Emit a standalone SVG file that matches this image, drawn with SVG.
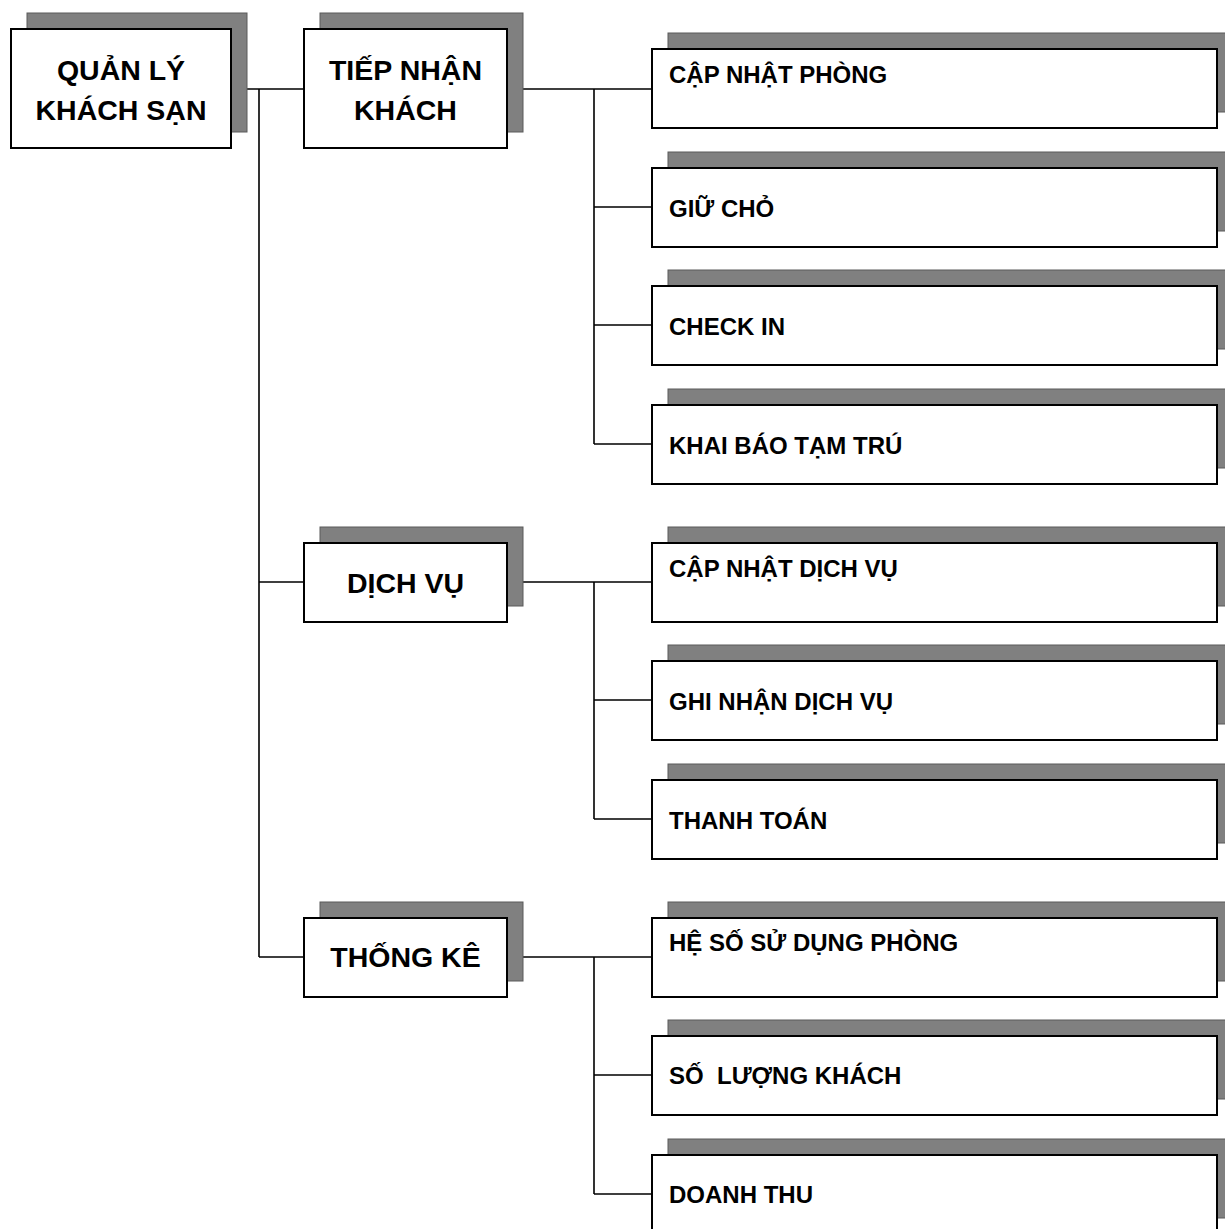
<svg xmlns="http://www.w3.org/2000/svg" width="1225" height="1229" viewBox="0 0 1225 1229">
<style>
.sh{fill:#808080;stroke:#5a5a5a;stroke-width:1}
.bx{fill:#fff;stroke:#000;stroke-width:2}
.t1{font-family:"Liberation Sans",Arial,sans-serif;font-weight:bold;font-size:28.5px;fill:#000;text-anchor:middle}
.t2{font-family:"Liberation Sans",Arial,sans-serif;font-weight:bold;font-size:24px;fill:#000;white-space:pre}
.cn{fill:none;stroke:#000;stroke-width:1.6}
</style>
<rect width="1225" height="1229" fill="#fff"/>
<g id="connectors">
<path class="cn" d="M231 89H304M259 89V957M259 582H304M259 957H304"/>
<path class="cn" d="M507 89H652M594 89V444M594 207H652M594 325H652M594 444H652"/>
<path class="cn" d="M507 582H652M594 582V819M594 700H652M594 819H652"/>
<path class="cn" d="M507 957H652M594 957V1194M594 1075H652M594 1194H652"/>
</g>
<g id="root"><rect class="sh" x="27" y="13" width="220" height="119"/><rect class="bx" x="11" y="29" width="220" height="119"/><text class="t1" x="121" y="80">QUẢN LÝ</text><text class="t1" x="121" y="120">KHÁCH SẠN</text></g>
<g id="tiep-nhan"><rect class="sh" x="320" y="13" width="203" height="119"/><rect class="bx" x="304" y="29" width="203" height="119"/><text class="t1" x="405.5" y="80">TIẾP NHẬN</text><text class="t1" x="405.5" y="120">KHÁCH</text></g>
<g id="dich-vu"><rect class="sh" x="320" y="527" width="203" height="79"/><rect class="bx" x="304" y="543" width="203" height="79"/><text class="t1" x="405.5" y="593">DỊCH VỤ</text></g>
<g id="thong-ke"><rect class="sh" x="320" y="902" width="203" height="79"/><rect class="bx" x="304" y="918" width="203" height="79"/><text class="t1" x="405.5" y="967">THỐNG KÊ</text></g>
<g id="cap-nhat-phong"><rect class="sh" x="668" y="33" width="565" height="79"/><rect class="bx" x="652" y="49" width="565" height="79"/><text class="t2" x="669" y="83">CẬP NHẬT PHÒNG</text></g>
<g id="giu-cho"><rect class="sh" x="668" y="152" width="565" height="79"/><rect class="bx" x="652" y="168" width="565" height="79"/><text class="t2" x="669" y="217">GIỮ CHỎ</text></g>
<g id="check-in"><rect class="sh" x="668" y="270" width="565" height="79"/><rect class="bx" x="652" y="286" width="565" height="79"/><text class="t2" x="669" y="335">CHECK IN</text></g>
<g id="khai-bao"><rect class="sh" x="668" y="389" width="565" height="79"/><rect class="bx" x="652" y="405" width="565" height="79"/><text class="t2" x="669" y="453.5">KHAI BÁO TẠM TRÚ</text></g>
<g id="cap-nhat-dich-vu"><rect class="sh" x="668" y="527" width="565" height="79"/><rect class="bx" x="652" y="543" width="565" height="79"/><text class="t2" x="669" y="577">CẬP NHẬT DỊCH VỤ</text></g>
<g id="ghi-nhan"><rect class="sh" x="668" y="645" width="565" height="79"/><rect class="bx" x="652" y="661" width="565" height="79"/><text class="t2" x="669" y="709.5">GHI NHẬN DỊCH VỤ</text></g>
<g id="thanh-toan"><rect class="sh" x="668" y="764" width="565" height="79"/><rect class="bx" x="652" y="780" width="565" height="79"/><text class="t2" x="669" y="828.5">THANH TOÁN</text></g>
<g id="he-so"><rect class="sh" x="668" y="902" width="565" height="79"/><rect class="bx" x="652" y="918" width="565" height="79"/><text class="t2" x="669" y="951">HỆ SỐ SỬ DỤNG PHÒNG</text></g>
<g id="so-luong"><rect class="sh" x="668" y="1020" width="565" height="79"/><rect class="bx" x="652" y="1036" width="565" height="79"/><text class="t2" x="669" y="1084" xml:space="preserve">SỐ  LƯỢNG KHÁCH</text></g>
<g id="doanh-thu"><rect class="sh" x="668" y="1139" width="565" height="79"/><rect class="bx" x="652" y="1155" width="565" height="79"/><text class="t2" x="669" y="1203">DOANH THU</text></g>
</svg>
